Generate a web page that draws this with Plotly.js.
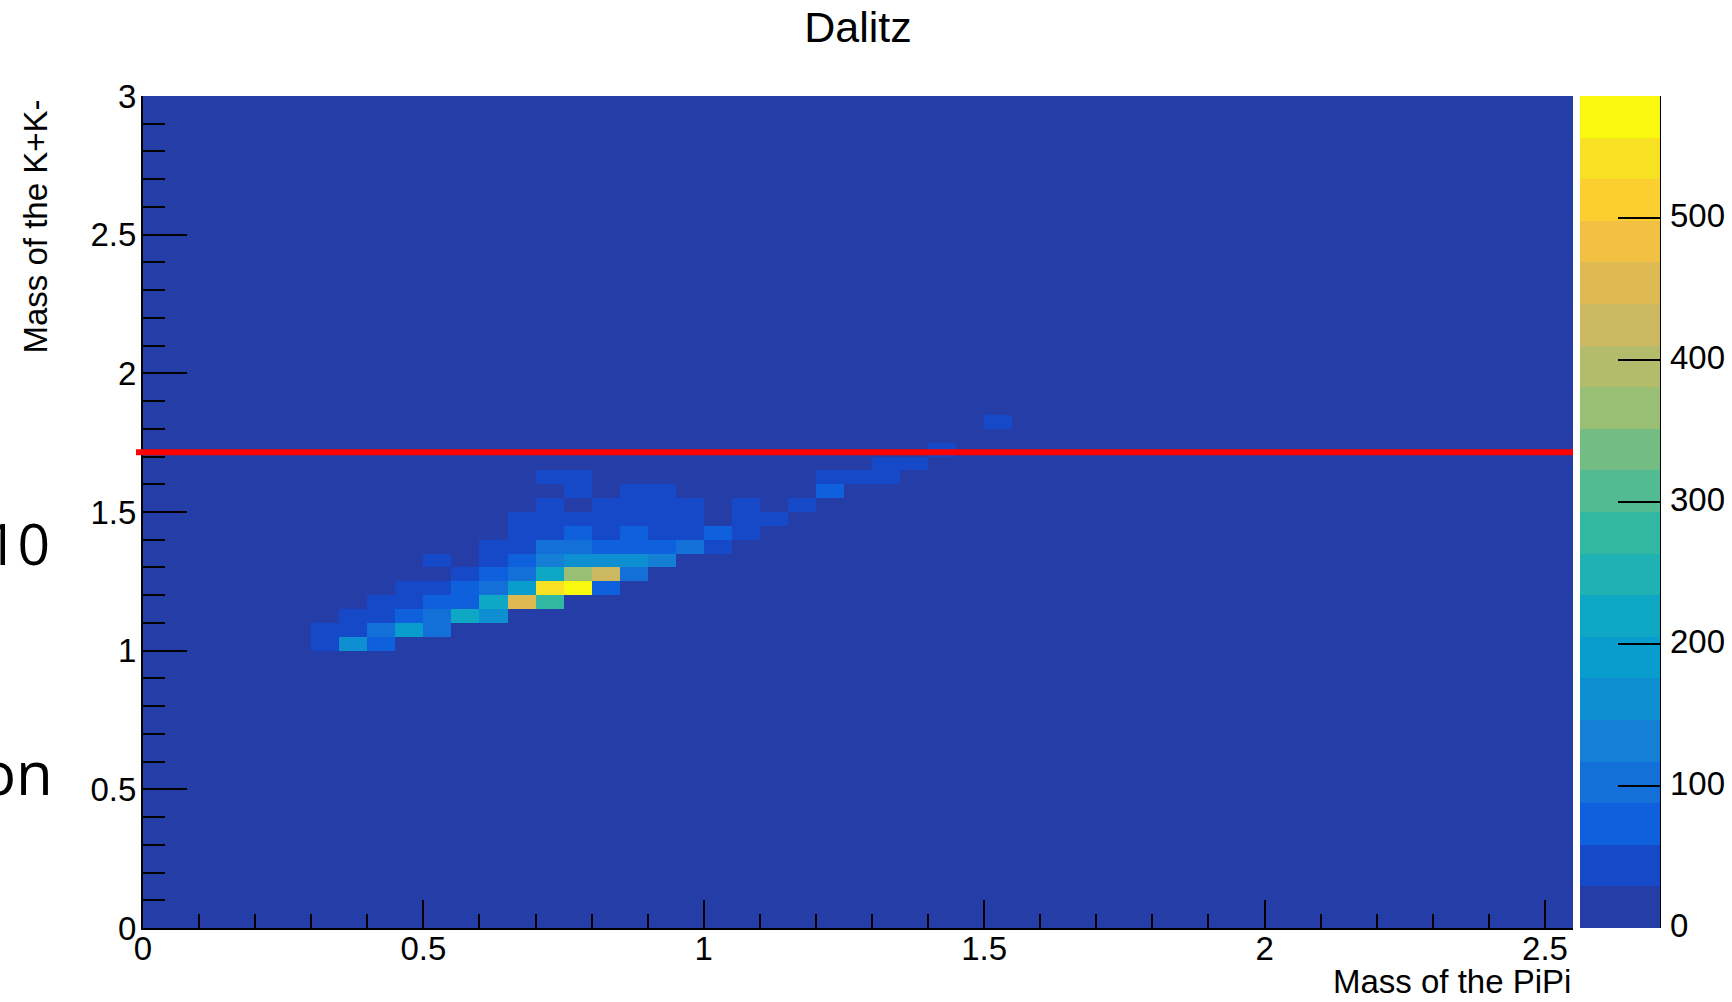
<!DOCTYPE html>
<html>
<head>
<meta charset="utf-8">
<script src="https://cdn.plot.ly/plotly-3.0.1.min.js"></script>
<style>
  html, body { margin: 0; padding: 0; background: #ffffff; }
  #chart { width: 1732px; height: 1002px; }
</style>
</head>
<body>
<div id="chart"></div>
<script>
// ---- Histogram definition (ROOT TH2: 51 x 60 bins of 0.05) ----
const nBinsX = 51, nBinsY = 60, binWidth = 0.05;

// ---- Non-empty bins: lower-left bin edges and counts ----
const cellX = [
  0.30, 0.35, 0.40,
  0.30, 0.35, 0.40, 0.45, 0.50,
  0.35, 0.40, 0.45, 0.50, 0.55, 0.60,
  0.40, 0.45, 0.50, 0.55, 0.60, 0.65, 0.70,
  0.45, 0.50, 0.55, 0.60, 0.65, 0.70, 0.75, 0.80,
  0.55, 0.60, 0.65, 0.70, 0.75, 0.80, 0.85,
  0.50, 0.60, 0.65, 0.70, 0.75, 0.80, 0.85, 0.90,
  0.60, 0.65, 0.70, 0.75, 0.80, 0.85, 0.90, 0.95, 1.00,
  0.65, 0.70, 0.75, 0.80, 0.85, 0.90, 0.95, 1.00, 1.05,
  0.65, 0.70, 0.75, 0.80, 0.85, 0.90, 0.95, 1.05, 1.10,
  0.70, 0.80, 0.85, 0.90, 0.95, 1.05, 1.15,
  0.75, 0.85, 0.90, 1.20,
  0.70, 0.75, 1.20, 1.25, 1.30,
  1.30, 1.35,
  1.40,
  1.50
];
const cellY = [
  1.00, 1.00, 1.00,
  1.05, 1.05, 1.05, 1.05, 1.05,
  1.10, 1.10, 1.10, 1.10, 1.10, 1.10,
  1.15, 1.15, 1.15, 1.15, 1.15, 1.15, 1.15,
  1.20, 1.20, 1.20, 1.20, 1.20, 1.20, 1.20, 1.20,
  1.25, 1.25, 1.25, 1.25, 1.25, 1.25, 1.25,
  1.30, 1.30, 1.30, 1.30, 1.30, 1.30, 1.30, 1.30,
  1.35, 1.35, 1.35, 1.35, 1.35, 1.35, 1.35, 1.35, 1.35,
  1.40, 1.40, 1.40, 1.40, 1.40, 1.40, 1.40, 1.40, 1.40,
  1.45, 1.45, 1.45, 1.45, 1.45, 1.45, 1.45, 1.45, 1.45,
  1.50, 1.50, 1.50, 1.50, 1.50, 1.50, 1.50,
  1.55, 1.55, 1.55, 1.55,
  1.60, 1.60, 1.60, 1.60, 1.60,
  1.65, 1.65,
  1.70,
  1.80
];
const cellCount = [
  44, 161, 73,
  44, 44, 103, 190, 103,
  44, 44, 73, 103, 220, 161,
  44, 44, 73, 73, 220, 454, 278,
  44, 44, 73, 103, 190, 542, 586, 73,
  44, 73, 103, 220, 366, 425, 103,
  44, 44, 73, 132, 161, 161, 161, 132,
  44, 44, 103, 103, 73, 73, 73, 103, 44,
  44, 44, 73, 44, 73, 44, 44, 73, 44,
  44, 44, 44, 44, 44, 44, 44, 44, 44,
  44, 44, 44, 44, 44, 44, 44,
  44, 44, 44, 73,
  44, 44, 44, 44, 44,
  44, 44,
  44,
  44
];

// Colour palette bands (20 contour levels, ROOT kBird as rendered)
const bandColors = [
  '#253da6', '#1549c8', '#0f60dc', '#1270d8', '#147fd5',
  '#0d8fd1', '#089dcc', '#0ea7c4', '#1fb1b4', '#32b8a2',
  '#52bb91', '#73bc82', '#99bf74', '#b3bc6a', '#cbb860',
  '#dfba53', '#f2c143', '#fccf30', '#f8e122', '#f8f90f'
];
const zMin = 0, zMax = 586;
const colorTicks = [0, 100, 200, 300, 400, 500];

// Red selection line (K+K- mass cut)
const cutMass = 1.715;

// Texts
const titleText = 'Dalitz';
const xTitle = 'Mass of the PiPi';
const yTitle = 'Mass of the K+K-';
const sideFragments = ['10', 'on'];

// ---- Build histogram grid ----
const z = [];
for (let j = 0; j < nBinsY; j++) {
  const row = [];
  for (let i = 0; i < nBinsX; i++) row.push(0);
  z.push(row);
}
for (let k = 0; k < cellX.length; k++) {
  const i = Math.round(cellX[k] / binWidth);
  const j = Math.round(cellY[k] / binWidth);
  z[j][i] = cellCount[k];
}

const nb = bandColors.length;
const colorscale = [];
for (let k = 0; k < nb; k++) {
  colorscale.push([k / nb, bandColors[k]]);
  colorscale.push([(k + 1) / nb, bandColors[k]]);
}

const W = 1732, H = 1002;
const mL = 143, mR = 159, mT = 96, mB = 74;
const plotW = W - mL - mR, plotH = H - mT - mB;

const fontFam = '"Liberation Sans", Arial, Helvetica, sans-serif';

const trace = {
  type: 'heatmap',
  z: z,
  x0: binWidth / 2, dx: binWidth,
  y0: binWidth / 2, dy: binWidth,
  zmin: zMin, zmax: zMax,
  zsmooth: false,
  colorscale: colorscale,
  hoverinfo: 'skip',
  colorbar: {
    x: 1 + 7 / plotW, xanchor: 'left', xpad: 0,
    y: 0.5, yanchor: 'middle', ypad: 0,
    len: 1, lenmode: 'fraction',
    thickness: 80, thicknessmode: 'pixels',
    outlinewidth: 0,
    tickmode: 'array', tickvals: colorTicks,
    ticks: 'inside', ticklen: 42, tickwidth: 2, tickcolor: '#000',
    showticklabels: false
  }
};

const annotations = [
  {
    text: xTitle, showarrow: false,
    xref: 'paper', x: 1, xanchor: 'right',
    yref: 'paper', y: 0, yanchor: 'bottom', yshift: -74,
    font: { family: fontFam, size: 33, color: '#000' }
  },
  {
    text: yTitle, showarrow: false, textangle: -90,
    xref: 'paper', x: 0, xanchor: 'left', xshift: -129,
    yref: 'paper', y: 1, yanchor: 'top', yshift: -2,
    font: { family: fontFam, size: 33, color: '#000' }
  },
  {
    text: sideFragments[0], showarrow: false,
    xref: 'paper', x: 0, xanchor: 'right', xshift: -91,
    yref: 'paper', y: (H - mB - 543) / plotH, yanchor: 'middle',
    font: { family: '"Open Sans", sans-serif', size: 57, color: '#000' }
  },
  {
    text: sideFragments[1], showarrow: false,
    xref: 'paper', x: 0, xanchor: 'right', xshift: -88,
    yref: 'paper', y: (H - mB - 772) / plotH, yanchor: 'middle',
    font: { family: '"Open Sans", sans-serif', size: 60, color: '#000' }
  }
];
// colour-axis labels, placed on the colour bar scale
colorTicks.forEach(function (v) {
  annotations.push({
    text: String(v), showarrow: false,
    xref: 'paper', x: (1668 - mL) / plotW, xanchor: 'left',
    yref: 'paper', y: (v - zMin) / (zMax - zMin), yanchor: 'middle', yshift: 3,
    font: { family: fontFam, size: 33, color: '#000' }
  });
});

const layout = {
  width: W, height: H,
  margin: { l: mL, r: mR, t: mT, b: mB, pad: 0 },
  paper_bgcolor: '#ffffff',
  plot_bgcolor: bandColors[0],
  showlegend: false,
  title: {
    text: titleText,
    font: { family: fontFam, size: 43, color: '#000' },
    x: 0.5, xref: 'paper', xanchor: 'center',
    y: 1 - 27 / H, yref: 'container', yanchor: 'middle'
  },
  xaxis: {
    range: [0, nBinsX * binWidth],
    dtick: 0.5, tick0: 0,
    ticks: 'inside', ticklen: 28, tickwidth: 2, tickcolor: '#000',
    minor: { dtick: 0.1, ticks: 'inside', ticklen: 14, tickwidth: 2, tickcolor: '#000' },
    showline: true, linecolor: '#000', linewidth: 2,
    showgrid: false, zeroline: false,
    tickfont: { family: fontFam, size: 33, color: '#000' },
    ticklabelstandoff: -10,
    fixedrange: true
  },
  yaxis: {
    range: [0, nBinsY * binWidth],
    dtick: 0.5, tick0: 0,
    ticks: 'inside', ticklen: 44, tickwidth: 2, tickcolor: '#000',
    minor: { dtick: 0.1, ticks: 'inside', ticklen: 22, tickwidth: 2, tickcolor: '#000' },
    showline: true, linecolor: '#000', linewidth: 2,
    showgrid: false, zeroline: false,
    tickfont: { family: fontFam, size: 33, color: '#000' },
    ticklabelstandoff: -2,
    fixedrange: true
  },
  shapes: [
    {
      type: 'line', xref: 'paper', yref: 'y',
      x0: -7 / plotW, x1: 1, y0: cutMass, y1: cutMass,
      line: { color: '#ff0000', width: 6 }, layer: 'above'
    },
    {
      type: 'line', xref: 'paper', yref: 'paper',
      x0: 1 + 87 / plotW, x1: 1 + 87 / plotW, y0: 0, y1: 1,
      line: { color: '#000', width: 2 }
    }
  ],
  annotations: annotations
};

Plotly.newPlot('chart', [trace], layout, { displayModeBar: false, staticPlot: true });
</script>
</body>
</html>
